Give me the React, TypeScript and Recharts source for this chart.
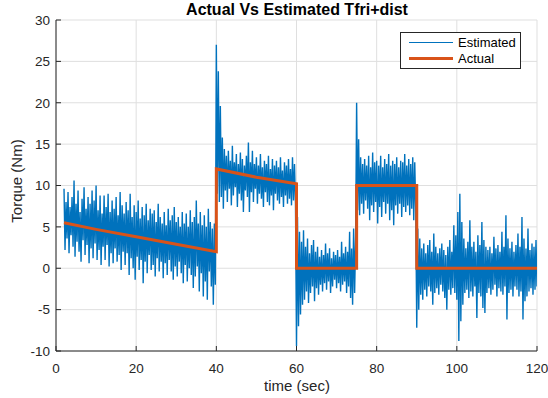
import { LineChart, Line, XAxis, YAxis, CartesianGrid } from "recharts";

const AXIS = "#262626";
const GRID = "#dfdfdf";
const BLUE = "#0072BD";
const ORANGE = "#D95319";
const FONT = "'Liberation Sans', Arial, Helvetica, sans-serif";

const xTicks = [0, 20, 40, 60, 80, 100, 120];
const yTicks = [-10, -5, 0, 5, 10, 15, 20, 25, 30];

const estStart = 2;
const estStep = 0.25;
const estimated = [
  // 2 .. 39.75
  9.6, 2.2, 8.0, 3.6, 9.2, 1.8, 7.4, 4.0, 8.6, 2.6,
  10.6, 1.4, 7.8, 3.2, 9.4, 2.0, 6.8, 0.8, 8.4, 3.4,
  9.8, 1.6, 7.2, 2.8, 8.6, 0.6, 7.8, 2.4, 9.4, 1.2,
  8.2, 3.0, 10.0, 1.0, 7.0, 2.2, 8.8, 0.4, 6.6, 2.6,
  8.8, 1.0, 7.4, 2.8, 9.0, 0.2, 6.8, 1.8, 8.2, 0.6,
  7.2, 2.4, 8.6, 0.8, 6.4, 1.6, 9.2, -0.2, 7.6, 2.0,
  6.6, 0.4, 8.0, 1.8, 7.0, -0.8, 9.0, 1.2, 6.2, 0.0,
  7.6, -1.4, 6.8, 1.4, 8.2, -0.2, 6.0, 1.0, 7.4, -1.8,
  6.4, 0.8, 7.8, -0.6, 5.8, 1.6, 7.2, -0.2, 6.6, 0.4,
  7.0, -1.0, 5.6, 1.2, 7.8, -0.4, 6.2, 0.8, 5.4, -1.2,
  6.8, 0.6, 5.2, -0.8, 7.2, 1.0, 5.8, -0.4, 6.4, -1.4,
  7.4, 0.2, 5.6, -1.0, 6.2, 0.8, 5.0, -0.6, 6.8, -1.8,
  5.4, 0.4, 6.6, -1.6, 5.0, 0.0, 7.0, -0.8, 5.6, -2.4,
  6.2, -1.0, 8.2, 0.2, 5.4, -2.8, 6.8, -0.6, 5.2, -3.4,
  6.4, -1.6, 5.0, -3.8, 7.2, -0.4, 5.6, -2.2, 4.8, -4.4,
  5.4, -2.0,
  // 40 .. 59.75
  27.0, 9.0, 23.8, 8.0, 19.6, 8.6, 15.8, 7.2, 14.4, 9.4,
  13.6, 8.0, 14.2, 9.6, 13.0, 7.6, 14.8, 8.8, 12.8, 9.8,
  13.8, 7.4, 12.6, 9.0, 14.0, 8.2, 13.2, 6.8, 12.4, 9.4,
  13.6, 8.6, 15.2, 6.8, 12.8, 9.2, 14.2, 8.0, 12.6, 9.6,
  13.4, 7.8, 12.4, 9.0, 13.8, 8.4, 12.2, 7.4, 13.0, 9.2,
  12.6, 8.0, 13.6, 7.6, 12.0, 8.8, 13.2, 7.0, 12.4, 9.0,
  13.0, 8.2, 12.2, 7.8, 13.4, 8.6, 11.8, 7.4, 12.8, 8.8,
  12.4, 7.8, 13.2, 8.4, 12.0, 7.6, 13.4, 8.2, 12.6, 7.8,
  // 60 .. 74.75
  -9.4, 6.2, -7.0, 4.4, -5.6, 3.2, -4.4, 4.6, -3.8, 2.6,
  -2.8, 3.6, -4.2, 1.8, -3.0, 2.8, -2.2, 3.4, -4.0, 2.0,
  -2.4, 2.6, -3.2, 1.4, -2.0, 2.2, -2.8, 1.6, -1.8, 3.0,
  -2.6, 1.8, -1.6, 2.4, -3.0, 1.2, -2.2, 2.0, -1.4, 1.6,
  -2.4, 2.2, -1.8, 1.4, -2.8, 3.2, -2.0, 1.8, -1.6, 2.6,
  -3.0, 2.0, -2.2, 4.4, -3.6, 2.4, -4.4, 4.8, -3.0, 3.6,
  // 75 .. 89.75
  20.0, 7.0, 15.6, 6.4, 13.4, 7.8, 12.6, 6.6, 13.2, 8.2,
  12.4, 7.2, 13.6, 5.8, 12.2, 7.6, 14.0, 6.8, 12.8, 8.0,
  13.0, 5.4, 12.4, 7.4, 13.6, 6.2, 12.2, 8.0, 13.2, 6.6,
  12.6, 7.8, 13.8, 5.8, 12.4, 7.0, 13.0, 5.2, 12.6, 7.6,
  13.4, 6.6, 12.2, 7.8, 13.0, 6.2, 12.8, 7.4, 13.8, 6.8,
  12.4, 7.6, 13.2, 6.4, 12.6, 7.2, 13.4, 5.8, 12.8, 7.0,
  // 90 .. 120
  -7.2, 4.8, -5.0, 3.6, -3.2, 2.4, -3.8, 3.0, -2.6, 1.8,
  -3.4, 2.8, -2.2, 3.4, -2.8, 2.0, -4.4, 4.2, -3.0, 2.6,
  -2.4, 1.8, -3.2, 2.4, -2.0, 3.0, -2.8, 2.2, -3.6, 1.6,
  -5.0, 2.6, -2.6, 3.4, -3.2, 2.0, -2.4, 5.2, -3.0, 4.0,
  -3.8, 6.8, -8.8, 9.0, -6.4, 5.6, -4.4, 3.6, -3.0, 2.4,
  -2.6, 3.2, -3.6, 5.8, -2.8, 2.6, -3.4, 3.2, -2.2, 2.0,
  -6.0, 4.0, -3.0, 2.8, -3.4, 5.6, -4.8, 3.4, -5.4, 2.6,
  -3.0, 2.2, -2.4, 2.6, -3.2, 1.8, -2.6, 3.8, -2.0, 2.4,
  -3.4, 2.8, -2.4, 2.0, -2.8, 4.4, -3.2, 2.6, -2.2, 6.4,
  -6.2, 3.6, -3.0, 2.4, -2.6, 3.2, -3.4, 2.0, -2.2, 2.8,
  -2.6, 4.2, -3.4, 2.6, -2.8, 6.2, -6.2, 3.6, -4.0, 2.4,
  -3.4, 4.8, -2.8, 2.2, -2.4, 3.0, -3.2, 2.6, -2.6, 3.4,
  -2.2,
];

// actual torque
const actualTime = [2, 10, 20, 30, 40, 40, 50, 55, 60, 60, 75, 75, 90, 90, 120];
const actualTorque = [5.5, 4.7, 3.8, 2.9, 2.0, 12.0, 11.0, 10.6, 10.2, 0, 0, 10, 10, 0, 0];

const estData = estimated.map((v, i) => ({ t: estStart + i * estStep, v }));
const actData = actualTime.map((t, i) => ({ t, v: actualTorque[i] }));

const BottomTick = (p: any) => (
  <g>
    <line x1={p.x} x2={p.x} y1={p.y} y2={p.y - 5} stroke={AXIS} />
    <text x={p.x} y={p.y + 22} textAnchor="middle" fill={AXIS} fontSize={13.5} fontFamily={FONT}>
      {p.payload.value}
    </text>
  </g>
);

const TopTick = (p: any) => <line x1={p.x} x2={p.x} y1={p.y} y2={p.y + 5} stroke={AXIS} />;

const LeftTick = (p: any) => (
  <g>
    <line x1={p.x} x2={p.x + 5} y1={p.y} y2={p.y} stroke={AXIS} />
    <text x={p.x - 6} y={p.y + 4.8} textAnchor="end" fill={AXIS} fontSize={13.5} fontFamily={FONT}>
      {p.payload.value}
    </text>
  </g>
);

const RightTick = (p: any) => <line x1={p.x} x2={p.x - 5} y1={p.y} y2={p.y} stroke={AXIS} />;

const App = () => (
  <div style={{ position: "absolute", left: 0, top: 0, width: 548, height: 398, background: "#fff" }}>
    <LineChart width={548} height={398} data={estData} margin={{ top: 20, right: 11, bottom: 0, left: 0 }}>
      <CartesianGrid stroke={GRID} horizontal vertical />
      <XAxis
        type="number"
        dataKey="t"
        domain={[0, 120]}
        ticks={xTicks}
        interval={0}
        allowDataOverflow
        height={47}
        stroke={AXIS}
        tickSize={0}
        tickMargin={0}
        tickLine={false}
        tick={<BottomTick />}
        label={{
          content: () => (
            <text x={297} y={391} textAnchor="middle" fill={AXIS} fontSize={15} fontFamily={FONT}>
              time (sec)
            </text>
          ),
        }}
      />
      <XAxis
        xAxisId="top"
        orientation="top"
        type="number"
        domain={[0, 120]}
        ticks={xTicks}
        interval={0}
        allowDataOverflow
        height={0}
        stroke={AXIS}
        tickSize={0}
        tickMargin={0}
        tickLine={false}
        tick={<TopTick />}
      />
      <YAxis
        type="number"
        domain={[-10, 30]}
        ticks={yTicks}
        interval={0}
        allowDataOverflow
        width={56}
        stroke={AXIS}
        tickSize={0}
        tickMargin={0}
        tickLine={false}
        tick={<LeftTick />}
        label={{
          content: () => (
            <text
              x={22}
              y={181}
              transform="rotate(-90 22 181)"
              textAnchor="middle"
              fill={AXIS}
              fontSize={15}
              fontFamily={FONT}
            >
              Torque (Nm)
            </text>
          ),
        }}
      />
      <YAxis
        yAxisId="right"
        orientation="right"
        type="number"
        domain={[-10, 30]}
        ticks={yTicks}
        interval={0}
        allowDataOverflow
        width={0}
        stroke={AXIS}
        tickSize={0}
        tickMargin={0}
        tickLine={false}
        tick={<RightTick />}
      />
      <Line
        data={estData}
        dataKey="v"
        type="linear"
        stroke={BLUE}
        strokeWidth={1.4}
        dot={false}
        isAnimationActive={false}
      />
      <Line
        data={actData}
        dataKey="v"
        type="linear"
        stroke={ORANGE}
        strokeWidth={3}
        dot={false}
        isAnimationActive={false}
      />
    </LineChart>
    <svg width={548} height={398} style={{ position: "absolute", left: 0, top: 0, pointerEvents: "none" }}>
      <text x={297} y={14.5} textAnchor="middle" fill="#000" fontSize={16} fontWeight="bold" fontFamily={FONT}>
        Actual Vs Estimated Tfri+dist
      </text>
      <rect x={400.5} y={32.5} width={120} height={36} fill="#fff" stroke={AXIS} />
      <line x1={409} x2={453} y1={42.5} y2={42.5} stroke={BLUE} strokeWidth={1} />
      <text x={458} y={47} fill="#000" fontSize={13} fontFamily={FONT}>
        Estimated
      </text>
      <line x1={409} x2={453} y1={58.5} y2={58.5} stroke={ORANGE} strokeWidth={3} />
      <text x={458} y={63} fill="#000" fontSize={13} fontFamily={FONT}>
        Actual
      </text>
    </svg>
  </div>
);

export default App;
